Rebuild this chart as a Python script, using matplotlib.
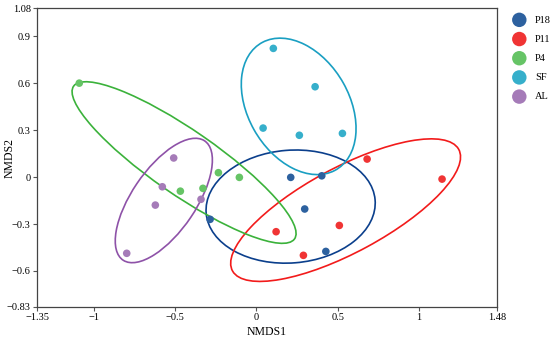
"""
NMDS ordination of five groups with 80% normal confidence ellipses.
"""

import numpy as np
import matplotlib
matplotlib.use("Agg")
import matplotlib.pyplot as plt
from matplotlib.patches import Ellipse

plt.rcParams['font.family'] = ['Liberation Serif', 'DejaVu Serif']
plt.rcParams['axes.unicode_minus'] = True

groups = ['P18', 'P11', 'P4', 'SF', 'AL']

p18_x = [-0.285, 0.211, 0.402, 0.297, 0.427]
p18_y = [-0.270, -0.002, 0.008, -0.204, -0.475]

p11_x = [0.121, 0.681, 1.142, 0.510, 0.289]
p11_y = [-0.349, 0.115, -0.013, -0.309, -0.500]

p4_x = [-1.090, -0.468, -0.329, -0.234, -0.105]
p4_y = [0.600, -0.090, -0.072, 0.028, -0.002]

sf_x = [0.104, 0.041, 0.361, 0.264, 0.529]
sf_y = [0.822, 0.313, 0.577, 0.267, 0.279]

al_x = [-0.509, -0.579, -0.622, -0.341, -0.798]
al_y = [0.122, -0.062, -0.179, -0.142, -0.487]

point_colors = ['#2D619F', '#F03434', '#66C466', '#36AFCB', '#A57BB8']
line_colors = ['#0B3F8C', '#F21B1B', '#3BB23B', '#1A9FC2', '#8E52A8']

xticks = [-1.35, -1, -0.5, 0, 0.5, 1, 1.48]
yticks = [-0.83, -0.6, -0.3, 0, 0.3, 0.6, 0.9, 1.08]


def conf_ellipse(x, y, color, level=0.8):
    # covariance ellipse centred on the group mean
    pts = np.column_stack([x, y])
    mean = pts.mean(axis=0)
    cov = np.cov(pts, rowvar=False)
    vals, vecs = np.linalg.eigh(cov)
    k = np.sqrt(-2 * np.log(1 - level))
    angle = np.degrees(np.arctan2(vecs[1, 1], vecs[0, 1]))
    return Ellipse(mean, 2 * k * np.sqrt(vals[1]), 2 * k * np.sqrt(vals[0]),
                   angle=angle, fill=False, edgecolor=color, lw=1.2, zorder=2)


def main():
    data = [(p18_x, p18_y), (p11_x, p11_y), (p4_x, p4_y), (sf_x, sf_y), (al_x, al_y)]

    fig = plt.figure(figsize=(5.5, 3.41), dpi=100)
    ax = fig.add_axes([37 / 550, 1 - 307 / 341, 460 / 550, 299 / 341])

    for (x, y), name, pc, lc in zip(data, groups, point_colors, line_colors):
        ax.add_patch(conf_ellipse(x, y, lc))
        ax.scatter(x, y, s=30, color=pc, edgecolors='none', label=name, zorder=3)

    ax.set_xlim(-1.35, 1.48)
    ax.set_ylim(-0.83, 1.08)
    ax.set_xticks(xticks)
    ax.set_xticklabels([f'{t:g}'.replace('-', '\u2212') for t in xticks])
    ax.set_yticks(yticks)
    ax.set_yticklabels([f'{t:g}'.replace('-', '\u2212') for t in yticks])
    ax.tick_params(labelsize=7.5, length=3, width=0.8, color='#555555', pad=1.5)
    for s in ax.spines.values():
        s.set_color('#444444')
        s.set_linewidth(0.9)

    ax.set_xlabel('NMDS1', fontsize=8.5)
    ax.set_ylabel('NMDS2', fontsize=8.5)
    ax.xaxis.set_label_coords(0.5, -19 / 299)
    ax.yaxis.set_label_coords(-21 / 460, 0.5)

    ax.legend(loc='upper left', bbox_to_anchor=(1.01, 1.0), frameon=False,
              fontsize=7.5, markerscale=1.9, handletextpad=0.5,
              labelspacing=0.95, borderaxespad=0.3)

    fig.savefig('out.png', dpi=100)


if __name__ == "__main__":
    main()
